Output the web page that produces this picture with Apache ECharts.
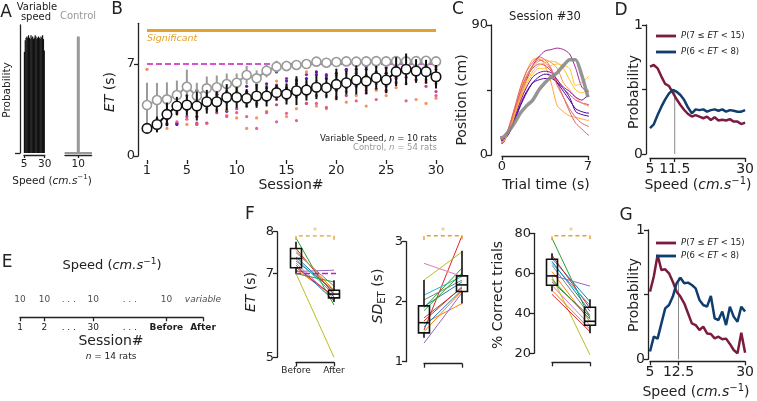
<!DOCTYPE html>
<html><head><meta charset="utf-8">
<script src="https://cdn.jsdelivr.net/npm/echarts@6/dist/echarts.min.js"></script>
<style>html,body{margin:0;padding:0;background:#fff}#c{width:757px;height:401px}</style>
</head><body><div id="c"></div>
<script>
// ---------------- DATA ----------------
// Panel A
const speedBinCenters = [5.5,6.5,7.5,8.5,9.5,10.5,11.5,12.5,13.5,14.5,15.5,16.5,17.5,18.5,19.5,20.5,21.5,22.5,23.5,24.5,25.5,26.5,27.5,28.5,29.5];
const variableSpeedProb = [0.79,0.88,0.9,0.91,0.9,0.92,0.9,0.89,0.92,0.9,0.91,0.89,0.9,0.92,0.91,0.89,0.9,0.91,0.9,0.89,0.91,0.9,0.92,0.89,0.8];
const controlSpeed = [10];
const controlProb = [0.91];
const controlBaseline = [6.4, 13.6];

// Panel B
const sessions = [1,2,3,4,5,6,7,8,9,10,11,12,13,14,15,16,17,18,19,20,21,22,23,24,25,26,27,28,29,30];
const etVariable = [2.1,2.4,3.17,3.8,3.88,3.8,4.13,4.13,4.47,4.47,4.39,4.57,4.57,4.82,4.72,4.97,5.02,5.23,5.2,5.45,5.58,5.78,5.7,5.96,5.78,6.42,6.6,6.47,6.42,6.03];
const errVariable = [0.3,0.6,0.9,0.7,0.8,1.1,0.9,0.8,1.0,0.8,0.7,0.9,0.8,0.6,0.8,1.1,0.8,0.9,0.8,1.2,0.9,1.1,1.0,0.9,1.0,1.1,1.2,0.9,0.9,0.9];
const etControl = [3.88,4.26,4.31,4.64,5.27,4.57,5.15,5.23,5.48,5.58,6.16,5.91,6.49,6.8,6.85,6.93,7.0,7.18,7.1,7.15,7.2,7.18,7.2,7.22,7.2,7.22,7.2,7.22,7.25,7.2];
const errControl = [1.7,1.3,1.3,1.1,1.3,1.0,0.9,0.9,0.8,0.7,0.7,0.6,0.5,0.45,0.4,0.35,0.3,0.3,0.3,0.25,0.25,0.25,0.2,0.2,0.2,0.2,0.2,0.2,0.2,0.2];
const significantET = 9.55;
const targetET = 7;
const ratET = [
 [2.0,2.1,2.4,2.4,3.9,3.0,4.0,4.7,3.4,5.8,4.9,5.4,5.2,6.4,5.2,5.5,5.9,6.4,5.5,6.3,6.6,6.4,6.8,6.0,6.3,6.8,7.0,6.3,6.6,5.8],
 [2.2,2.6,3.4,4.1,3.6,4.6,4.4,5.2,4.9,4.2,5.3,4.7,5.5,5.0,5.7,4.6,5.4,6.2,6.1,5.8,5.2,6.6,5.9,6.4,6.7,7.1,6.6,7.0,6.9,6.8],
 [2.1,2.2,3.0,2.5,3.5,5.0,4.4,4.7,5.2,4.9,4.3,6.0,6.3,5.4,5.9,5.8,6.2,5.5,6.2,6.1,6.5,6.3,6.6,6.9,6.0,6.9,6.8,7.0,6.2,6.6],
 [2.0,2.4,3.5,3.3,3.0,2.5,3.6,3.3,4.1,3.6,3.8,4.0,4.2,3.9,4.3,4.5,4.0,4.6,4.9,5.1,4.6,5.3,4.8,5.1,5.0,5.9,6.0,5.8,5.3,4.9],
 [2.2,2.8,4.0,3.8,4.6,4.2,3.8,4.6,4.4,5.2,4.6,3.9,4.8,5.3,4.4,5.1,4.6,5.0,4.6,5.4,5.6,5.4,5.2,5.5,4.9,6.0,6.6,6.1,5.8,5.5],
 [2.1,2.2,2.1,3.2,2.4,2.4,2.5,4.8,3.1,2.9,2.1,2.9,3.4,5.7,3.0,3.6,6.4,3.8,3.6,4.4,4.1,4.6,3.8,5.0,4.6,5.2,5.5,4.3,4.0,4.4],
 [2.3,2.5,3.2,4.4,4.9,4.6,4.9,4.2,4.8,5.0,4.7,5.1,5.3,4.6,5.4,5.3,5.6,5.7,5.4,6.0,6.3,6.4,6.2,6.8,6.5,6.9,7.2,6.9,7.1,6.7],
 [6.6,2.2,4.3,4.6,4.0,3.3,5.0,4.8,3.5,4.4,3.9,5.2,4.5,4.3,4.6,5.0,5.2,5.4,5.2,5.5,5.9,6.0,5.4,6.3,5.6,6.3,6.9,6.6,6.7,6.2],
 [3.9,2.3,2.5,2.6,2.8,2.4,2.5,3.5,3.0,3.3,3.0,2.1,3.3,2.6,3.25,2.7,4.0,4.0,3.7,4.5,4.9,4.2,5.0,4.3,5.3,5.6,4.2,5.8,5.6,4.6],
 [1.9,2.6,2.8,3.9,3.9,4.3,4.1,4.3,4.6,4.4,4.8,4.6,4.9,5.2,5.1,5.7,5.2,5.3,5.9,5.0,5.6,5.9,6.1,5.9,6.3,6.4,6.5,6.6,6.4,6.0]
];

// Panel C
const trialTime = [-0.8,0,0.5,1,1.5,2,2.5,3,3.5,4,4.5,5,5.5,6,6.5,7,7.5];
const positionMean = [12,12,16,22,29,34,38,45,50,54,57,62,66,66,55,40,null];
const positionTrials = [
 [9,9,17,30,45,58,66,67,62,50,34,30,27,26,25,24,24],
 [8,8,18,32,47,58,64,68,66,60,50,40,30,22,18,14,12],
 [9,9,15,27,40,52,62,68,72,73,74,73,70,60,47,44,47],
 [10,10,14,24,35,44,50,52,53,53,50,46,40,30,28,27,26],
 [10,10,15,26,38,49,56,60,60,62,63,62,60,48,50,54,57],
 [8,8,16,30,43,54,60,63,62,58,52,46,42,38,36,35,34],
 [9,9,16,29,42,54,61,65,66,64,60,50,45,40,36,34,33],
 [10,10,14,25,37,47,54,57,58,57,52,47,44,40,38,41,40],
 [11,11,14,23,34,43,50,54,56,55,50,44,38,32,30,29,30],
 [8,8,17,31,44,55,62,66,64,59,48,40,32,26,22,20,19],
 [9,9,15,27,40,51,58,62,64,65,64,60,52,45,43,45,46]
];

// Panels D and G
const speeds = [5,6,7,8,9,10,11,12,13,14,15,16,17,18,19,20,21,22,23,24,25,26,27,28,29,30];
const dProbLong = [0.677,0.69,0.664,0.60,0.543,0.527,0.476,0.424,0.38,0.341,0.31,0.29,0.302,0.29,0.277,0.29,0.264,0.285,0.26,0.265,0.26,0.27,0.251,0.251,0.232,0.243];
const dProbMid  = [0.2,0.23,0.302,0.367,0.424,0.47,0.496,0.483,0.457,0.418,0.36,0.315,0.346,0.34,0.346,0.328,0.34,0.346,0.335,0.346,0.328,0.34,0.335,0.328,0.328,0.34];
const dMarker = 11.5;
const gProbLong = [0.523,0.64,0.807,0.69,0.696,0.665,0.6,0.523,0.485,0.433,0.356,0.278,0.265,0.227,0.253,0.2,0.196,0.162,0.175,0.155,0.16,0.119,0.072,0.046,0.206,0.05];
const gProbMid  = [0.06,0.175,0.16,0.278,0.394,0.42,0.485,0.588,0.631,0.588,0.593,0.575,0.549,0.459,0.42,0.407,0.49,0.317,0.304,0.369,0.265,0.407,0.33,0.29,0.407,0.369];
const gMarker = 12.5;
const legendNames = ['P(7 ≤ ET < 15)', 'P(6 < ET < 8)'];

// Panel E
const eSessionLabels = ['1','2','. . .','30','. . .','Before','After'];
const eSpeedLabels = ['10','10','. . .','10','. . .','10','variable'];
const eSlots = [0,1,2,3,4.5,6,7.5];
const eTickSlots = [0,1,3,6,7.5];

// Panel F
const phaseLabels = ['Before','After'];
const etBefore = [7.4,7.1,7.85,7.6,7.05,7.3,7.25,7.5,7.0,7.35,7.2,7.55,7.0,7.15];
const etAfter  = [6.55,6.45,6.25,6.5,7.08,6.6,6.4,6.7,5.0,6.5,6.35,6.6,6.8,6.45];
const sdBefore = [1.92,1.64,1.9,1.53,1.31,1.73,2.64,2.03,2.36,2.11,1.58,1.5,1.85,1.68];
const sdAfter  = [2.33,1.97,2.56,3.1,2.15,2.23,2.42,2.36,2.83,2.42,2.2,2.18,2.48,2.25];
const pctBefore = [67.5,60.8,77.5,69,59,55.8,54,64,58.3,65,66,51.5,57,49.5];
const pctAfter  = [45.8,35.8,37.5,42.5,53.6,38.3,34,39,19.2,44,41,32,37,30.8];
// [min, q1, median, q3, max]
const etBoxBefore = [7.0,7.14,7.36,7.6,7.76];
const etBoxAfter  = [6.32,6.42,6.51,6.6,6.84];
const sdBoxBefore = [1.4,1.48,1.65,1.93,2.36];
const sdBoxAfter  = [1.97,2.17,2.28,2.43,2.85];
const pctBoxBefore = [51,54,58.7,67,70];
const pctBoxAfter  = [30,34,36,43,47];
const etSigBracket = [7.8,7.9,7.99];
const sdSigBracket = [3.03,3.1,3.16];
const pctSigBracket = [76.5,78.8,80.6];

// ---------------- STYLE ----------------
const FONT = 'DejaVu Sans';
const INK = '#222';
const ORANGE = '#e3a22c';
const MAGENTA = '#c51bc5';
const RED = '#7b1c3e';
const NAVY = '#103d6e';
const tab10 = ['#1f77b4','#ff7f0e','#2ca02c','#d62728','#9467bd','#8c564b','#e377c2','#7f7f7f','#bcbd22','#17becf'];
const plasma10 = ['#2a0593','#5302a3','#8b0aa5','#b83289','#db5c68','#f48849','#febd2a','#ee7b51','#e0508a','#6a00a8'];
const cColors = ['#fca636','#e16462','#a62098','#5402a3','#fdc328','#cc4778','#f89441','#8f0da4','#3b049a','#e5676b','#febd2a'];

const grids = [
  {left:24, top:25, width:20.7, height:128},      // 0 A variable
  {left:65, top:25, width:26.6, height:128},      // 1 A control
  {left:147, top:23.3, width:289, height:132.7},  // 2 B
  {left:502, top:25, width:86, height:130},       // 3 C
  {left:650, top:25, width:98, height:129},       // 4 D
  {left:296, top:231.7, width:38, height:125.6},  // 5 F1
  {left:424, top:241.7, width:38, height:120},    // 6 F2
  {left:552, top:233.3, width:38, height:120},    // 7 F3
  {left:650, top:230, width:98, height:129.3},    // 8 G
  {left:20, top:290, width:183, height:27.3}      // 9 E
];

function ax(gi, min, max, o) {
  o = o || {};
  const a = {
    type:'value', gridIndex:gi, min, max, show: o.show !== false,
    offset: o.offset || 0,
    axisLine:{show: o.line !== false, onZero:false, lineStyle:{color:INK, width:1.3}},
    axisTick:{show: !!o.ticks, length: o.tickLen || 4, inside:false, lineStyle:{color:INK, width:1.3}},
    axisLabel:{show: !!o.labels, color:INK, fontFamily:FONT, fontSize:o.fs || 13, margin:o.margin || 3,
      showMinLabel:true, showMaxLabel:true},
    splitLine:{show:false}
  };
  if (o.ticks) a.axisTick.customValues = o.ticks;
  if (o.labels) a.axisLabel.customValues = o.labels;
  if (o.fmt) a.axisLabel.formatter = o.fmt;
  if (o.rich) a.axisLabel.rich = o.rich;
  return a;
}

const xAxes = [
  ax(0, 5, 30, {ticks:[5,30], labels:[5,30], offset:2, tickLen:3, fs:10.5, margin:4}),
  ax(1, 6.5, 13.5, {ticks:[10], labels:[10], offset:2, tickLen:3, fs:10.5, margin:4}),
  ax(2, 1, 30, {ticks:[1,5,10,15,20,25,30], labels:[1,5,10,15,20,25,30], offset:4, line:false, margin:4}),
  ax(3, 0, 7, {ticks:[0,7], labels:[0,7], offset:1, margin:4}),
  ax(4, 5, 30, {ticks:[5,dMarker,30], labels:[5,dMarker,30], offset:4, fs:14, margin:4}),
  ax(5, 0, 1, {ticks:[0,1], labels:[0,1], offset:5, fs:9, margin:4, fmt: v => phaseLabels[v]}),
  ax(6, 0, 1, {ticks:[0,1], offset:2}),
  ax(7, 0, 1, {ticks:[0,1], offset:9}),
  ax(8, 5, 30, {ticks:[5,gMarker,30], labels:[5,gMarker,30], offset:2, fs:14, margin:4}),
  ax(9, 0, 7.5, {ticks:eTickSlots, labels:eSlots, fs:9, margin:6, tickLen:4,
     fmt: v => { const t = eSessionLabels[eSlots.indexOf(v)]; return (t === 'Before' || t === 'After') ? '{b|' + t + '}' : t; },
     rich:{b:{fontWeight:'bold', fontFamily:FONT, fontSize:9, color:INK}}})
];
const yAxes = [
  ax(0, 0, 1, {ticks:[0], offset:4, tickLen:5}),
  ax(1, 0, 1, {show:false}),
  ax(2, 0, 10.1, {ticks:[0,7], labels:[0,7], offset:9}),
  ax(3, 0, 90, {ticks:[0,45,90], labels:[0,90], offset:11}),
  ax(4, 0, 1, {ticks:[0,0.5,1], labels:[0,1], offset:4, fs:14}),
  ax(5, 5, 8, {ticks:[5,7,8], labels:[5,7,8], offset:19, fs:13}),
  ax(6, 1, 3, {ticks:[1,2,3], labels:[1,2,3], offset:18, fs:13}),
  ax(7, 20, 80, {ticks:[20,40,60,80], labels:[20,40,60,80], offset:18, fs:13}),
  ax(8, 0, 1, {ticks:[0,0.5,1], labels:[0,1], offset:2, fs:14}),
  ax(9, 0, 1, {show:false})
];

const series = [];

// ---- A ----
series.push({type:'bar', xAxisIndex:0, yAxisIndex:0, barWidth:1.2, clip:false,
  itemStyle:{color:'#111'}, data: speedBinCenters.map((s,i)=>[s, variableSpeedProb[i]])});
series.push({type:'line', xAxisIndex:1, yAxisIndex:1, symbol:'none', clip:false,
  lineStyle:{color:'#999', width:2}, data: controlBaseline.map(s=>[s,0])});
series.push({type:'bar', xAxisIndex:1, yAxisIndex:1, barWidth:3, clip:false,
  itemStyle:{color:'#999'}, data: controlSpeed.map((s,i)=>[s, controlProb[i]])});

// ---- B ----
ratET.forEach((arr, r) => {
  series.push({type:'scatter', xAxisIndex:2, yAxisIndex:2, symbolSize:3.2, clip:false, z:1,
    itemStyle:{color: plasma10[r], opacity:0.9}, data: arr.map((v,i)=>[sessions[i], v])});
});
series.push({type:'line', xAxisIndex:2, yAxisIndex:2, symbol:'none', clip:false, z:2,
  lineStyle:{color:ORANGE, width:3}, data:[[sessions[0], significantET],[sessions[29], significantET]]});
series.push({type:'line', xAxisIndex:2, yAxisIndex:2, symbol:'none', clip:false, z:2,
  lineStyle:{color:MAGENTA, width:1.6, type:[6,3]}, data:[[sessions[0], targetET],[sessions[29], targetET]]});
function errRender(color, lw) {
  return function(params, api) {
    const x = api.value(0), y = api.value(1), e = api.value(2);
    const p1 = api.coord([x, y - e]), p2 = api.coord([x, y + e]);
    return {type:'line', shape:{x1:p1[0], y1:p1[1], x2:p2[0], y2:p2[1]}, style:{stroke:color, lineWidth:lw}};
  };
}
series.push({type:'custom', xAxisIndex:2, yAxisIndex:2, z:3, clip:false, renderItem: errRender('#9a9a9a', 2),
  data: sessions.map((s,i)=>[s, etControl[i], errControl[i]])});
series.push({type:'line', xAxisIndex:2, yAxisIndex:2, z:4, clip:false, symbol:'circle', symbolSize:9,
  lineStyle:{color:'#9a9a9a', width:2}, itemStyle:{color:'#fff', borderColor:'#9a9a9a', borderWidth:1.6},
  data: sessions.map((s,i)=>[s, etControl[i]])});
series.push({type:'custom', xAxisIndex:2, yAxisIndex:2, z:5, clip:false, renderItem: errRender('#111', 2),
  data: sessions.map((s,i)=>[s, etVariable[i], errVariable[i]])});
series.push({type:'line', xAxisIndex:2, yAxisIndex:2, z:6, clip:false, symbol:'circle', symbolSize:9.5,
  lineStyle:{color:'#111', width:2}, itemStyle:{color:'#fff', borderColor:'#111', borderWidth:1.6},
  data: sessions.map((s,i)=>[s, etVariable[i]])});

// ---- C ----
positionTrials.forEach((arr, k) => {
  series.push({type:'line', xAxisIndex:3, yAxisIndex:3, symbol:'none', clip:false, smooth:0.25,
    lineStyle:{color:cColors[k], width:1}, data: arr.map((v,i)=>[trialTime[i], v])});
});
series.push({type:'line', xAxisIndex:3, yAxisIndex:3, symbol:'none', clip:false, z:3, smooth:0.2,
  lineStyle:{color:'#8a8a8a', width:3.5, opacity:0.9},
  data: positionMean.map((v,i)=>[trialTime[i], v]).filter(p=>p[1] !== null)});

// ---- D & G ----
function probSeries(xi, long, mid, marker) {
  series.push({type:'line', name:legendNames[0], xAxisIndex:xi, yAxisIndex:xi, symbol:'none', clip:false,
    lineStyle:{color:RED, width:2.5}, itemStyle:{color:RED}, data: speeds.map((s,i)=>[s, long[i]])});
  series.push({type:'line', name:legendNames[1], xAxisIndex:xi, yAxisIndex:xi, symbol:'none', clip:false,
    lineStyle:{color:NAVY, width:2.5}, itemStyle:{color:NAVY}, data: speeds.map((s,i)=>[s, mid[i]])});
  const idx = speeds.indexOf(Math.floor(marker));
  const top = Math.max(mid[idx], mid[idx+1]);
  series.push({type:'line', xAxisIndex:xi, yAxisIndex:xi, symbol:'none', clip:false, z:1,
    lineStyle:{color:'#888', width:1}, data:[[marker,0],[marker,top]]});
}
probSeries(4, dProbLong, dProbMid, dMarker);
probSeries(8, gProbLong, gProbMid, gMarker);

// ---- F ----
function pairRender(params, api) {
  const p0 = api.coord([0, api.value(0)]), p1 = api.coord([1, api.value(1)]);
  return {type:'line', shape:{x1:p0[0], y1:p0[1], x2:p1[0], y2:p1[1]},
    style:{stroke: tab10[api.value(2) % 10], lineWidth:1}};
}
function boxRender(params, api) {
  const x = api.value(0);
  const pmn = api.coord([x, api.value(1)]), pq1 = api.coord([x, api.value(2)]), pmd = api.coord([x, api.value(3)]),
        pq3 = api.coord([x, api.value(4)]), pmx = api.coord([x, api.value(5)]);
  const cx = pmd[0], w = 11, st = {stroke:'#111', lineWidth:1.6, fill:'none'};
  return {type:'group', children:[
    {type:'line', shape:{x1:cx, y1:pmn[1], x2:cx, y2:pq1[1]}, style:st},
    {type:'line', shape:{x1:cx, y1:pq3[1], x2:cx, y2:pmx[1]}, style:st},
    {type:'rect', shape:{x:cx-w/2, y:pq3[1], width:w, height:pq1[1]-pq3[1]}, style:st},
    {type:'line', shape:{x1:cx-w/2, y1:pmd[1], x2:cx+w/2, y2:pmd[1]}, style:st}
  ]};
}
function fPanel(ai, before, after, boxB, boxA, sig) {
  series.push({type:'custom', xAxisIndex:ai, yAxisIndex:ai, clip:false, z:2, renderItem: pairRender,
    data: before.map((b,i)=>[b, after[i], i])});
  series.push({type:'custom', xAxisIndex:ai, yAxisIndex:ai, clip:false, z:3, renderItem: boxRender,
    data: [[0].concat(boxB), [1].concat(boxA)]});
  series.push({type:'line', xAxisIndex:ai, yAxisIndex:ai, symbol:'none', clip:false, z:2,
    lineStyle:{color:ORANGE, width:1.4, type:[4,3]},
    data:[[0,sig[0]],[0,sig[1]],[1,sig[1]],[1,sig[0]]]});
  series.push({type:'scatter', xAxisIndex:ai, yAxisIndex:ai, clip:false, symbolSize:1, z:2,
    itemStyle:{color:'transparent'},
    label:{show:true, position:'inside', formatter:'*', color:ORANGE, fontSize:8, fontFamily:FONT},
    data:[[0.5, sig[2]]]});
}
series.push({type:'line', xAxisIndex:5, yAxisIndex:5, symbol:'none', clip:false, z:4,
  lineStyle:{color:MAGENTA, width:1.6, type:[6,3]}, data:[[-0.5, targetET],[1.47, targetET]]});
fPanel(5, etBefore, etAfter, etBoxBefore, etBoxAfter, etSigBracket);
fPanel(6, sdBefore, sdAfter, sdBoxBefore, sdBoxAfter, sdSigBracket);
fPanel(7, pctBefore, pctAfter, pctBoxBefore, pctBoxAfter, pctSigBracket);

// ---- E ----
series.push({type:'scatter', xAxisIndex:9, yAxisIndex:9, symbolSize:1, clip:false,
  itemStyle:{color:'transparent'},
  label:{show:true, position:'inside', color:INK, fontFamily:FONT, fontSize:9,
    formatter: p => p.value[2] === 'variable' ? '{i|variable}' : p.value[2],
    rich:{i:{fontStyle:'italic', fontFamily:FONT, fontSize:9, color:INK}}},
  data: eSlots.map((x,i)=>[x, 0.66, eSpeedLabels[i]])});

// ---------------- TEXT ----------------
function rich(size, color) {
  color = color || INK;
  return {
    i:{fontStyle:'italic', fontFamily:FONT, fontSize:size, fill:color, color:color, lineHeight:size+4},
    s:{fontFamily:FONT, fontSize:Math.round(size*0.68), fill:color, color:color, verticalAlign:'top', lineHeight:size+4},
    sub:{fontFamily:FONT, fontSize:Math.round(size*0.68), fill:color, color:color, verticalAlign:'bottom', lineHeight:size+4},
    b:{fontWeight:'bold', fontFamily:FONT, fontSize:size, fill:color, color:color, lineHeight:size+4},
    n:{fontFamily:FONT, fontSize:size, fill:color, color:color, lineHeight:size+4}
  };
}
function T(x, y, text, size, o) {
  o = o || {};
  const color = o.color || INK;
  return {type:'text', x, y, rotation: o.rot ? Math.PI/2 : 0, z:100,
    style:{text, fontFamily:FONT, fontSize:size, fill:color,
      fontStyle:o.italic ? 'italic' : 'normal', fontWeight:o.bold ? 'bold' : 'normal',
      align:o.align || 'center', verticalAlign:'middle', textAlign:o.align || 'center', textVerticalAlign:'middle',
      lineHeight:size+4, rich: rich(size, color)}};
}
const SPEED = '{n|Speed (}{i|cm.s}{s|−1}{n|)}';
const graphics = [
  T(6, 13, 'A', 17), T(117, 10, 'B', 17), T(458, 10, 'C', 17), T(621, 11, 'D', 17),
  T(7, 263, 'E', 17), T(250, 215, 'F', 17), T(626, 216, 'G', 17),
  // A
  T(37, 7, 'Variable', 10), T(36, 17, 'speed', 10), T(78, 16, 'Control', 10, {color:'#999'}),
  T(7, 90, 'Probability', 10.5, {rot:true}), T(52, 181, SPEED, 10.5),
  // B
  T(110, 92, '{i|ET} (s)', 14, {rot:true}), T(291, 185, 'Session#', 14),
  T(147, 38.5, 'Significant', 9.5, {italic:true, color:ORANGE, align:'left'}),
  T(437, 138.3, 'Variable Speed, {i|n} = 10 rats', 8.5, {align:'right'}),
  T(437, 147.7, 'Control, {i|n} = 54 rats', 8.5, {align:'right', color:'#999'}),
  // C
  T(545, 17, 'Session #30', 11.5), T(462, 100, 'Position (cm)', 14, {rot:true}), T(546, 185, 'Trial time (s)', 14),
  // D
  T(634, 92, 'Probability', 14, {rot:true}), T(698, 185, SPEED, 14),
  // E
  T(112, 266, SPEED, 13), T(111, 341, 'Session#', 14), T(111, 357, '{i|n} = 14 rats', 9),
  // F
  T(251, 292, '{i|ET} (s)', 14, {rot:true}), T(378.5, 296, '{i|SD}{sub|ET} (s)', 14, {rot:true}),
  T(498, 295, '% Correct trials', 14, {rot:true}),
  // G
  T(634, 295, 'Probability', 14, {rot:true}), T(696, 392, SPEED, 14)
];

const legendRich = {i:{fontStyle:'italic', fontFamily:FONT, fontSize:8.5, color:INK}};
function legendFmt(name) { return name.replace(/P/, '{i|P}').replace(/ET/, '{i|ET}'); }
const legends = [
  {data:legendNames, left:651, top:25, orient:'vertical', icon:'rect', itemWidth:20, itemHeight:2.8, itemGap:4,
   selectedMode:false, textStyle:{fontFamily:FONT, fontSize:8.5, color:INK, lineHeight:12, rich:legendRich}, formatter:legendFmt},
  {data:legendNames, left:651, top:232, orient:'vertical', icon:'rect', itemWidth:20, itemHeight:2.8, itemGap:1,
   selectedMode:false, textStyle:{fontFamily:FONT, fontSize:8.5, color:INK, lineHeight:12, rich:legendRich}, formatter:legendFmt}
];

const chart = echarts.init(document.getElementById('c'), null, {renderer:'canvas'});
chart.setOption({
  animation:false,
  backgroundColor:'#fff',
  textStyle:{fontFamily:FONT},
  grid: grids,
  xAxis: xAxes,
  yAxis: yAxes,
  legend: legends,
  series,
  graphic: graphics
});
</script>
</body></html>
